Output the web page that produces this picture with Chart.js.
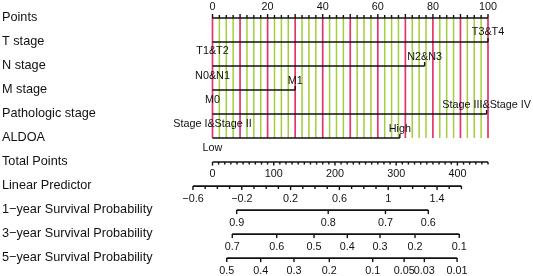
<!DOCTYPE html>
<html>
<head>
<meta charset="utf-8">
<script src="https://cdn.jsdelivr.net/npm/chart.js@4.4.1/dist/chart.umd.min.js"></script>
<style>
  html, body { margin: 0; padding: 0; background: #fff; }
  #wrap { width: 533px; height: 276px; position: relative; }
</style>
</head>
<body>
<div id="wrap"><canvas id="nomo"></canvas></div>
<script>
// rows, top to bottom
const rowLabels = [
  'Points', 'T stage', 'N stage', 'M stage', 'Pathologic stage', 'ALDOA',
  'Total Points', 'Linear Predictor',
  '1\u2212year Survival Probability',
  '3\u2212year Survival Probability',
  '5\u2212year Survival Probability'
]

// points scale (0-100)
const pointsLabels = [0, 20, 40, 60, 80, 100]

// predictors: level names and their points
const tStageLevels = ['T1&T2', 'T3&T4']
const tStagePoints = [0, 100]
const nStageLevels = ['N0&N1', 'N2&N3']
const nStagePoints = [0, 77]
const mStageLevels = ['M0', 'M1']
const mStagePoints = [0, 30]
const pathStageLevels = ['Stage I&Stage II', 'Stage III&Stage IV']
const pathStagePoints = [0, 99.5]
const aldoaLevels = ['Low', 'High']
const aldoaPoints = [0, 68]

// total points axis
const totalLabels = [0, 100, 200, 300, 400]
const totalMax = 450
const totalPerPoint = 4.5

// linear predictor axis
const lpLabels = [-0.6, -0.2, 0.2, 0.6, 1, 1.4]
const lpRange = [-0.6, 1.6]
const lpAtZeroTotal = -0.44
const totalPerLp = 199.3

// survival probabilities and the total points where they sit
const surv1Labels = ['0.9', '0.8', '0.7', '0.6']
const surv1Total = [39.5, 189, 282.5, 352.5]
const surv3Labels = ['0.7', '0.6', '0.5', '0.4', '0.3', '0.2', '0.1']
const surv3Total = [32.3, 104.9, 165.8, 220.2, 273.6, 330.8, 403]
const surv5Labels = ['0.5', '0.4', '0.3', '0.2', '0.1', '0.05', '0.03', '0.01']
const surv5Total = [23.2, 78.7, 133.1, 190.8, 261.7, 313, 346, 399.5]

const RED = '#e5336b'
const GREEN = '#a3cf3c'
const INK = '#111'
const FONT = '"Liberation Sans", Arial, sans-serif'

const totalToPts = t => t / totalPerPoint
const lpToPts = lp => totalToPts((lp - lpAtZeroTotal) * totalPerLp)

function seq(from, to, step) {
  const out = []
  const n = Math.round((to - from) / step)
  for (let i = 0; i <= n; i++) out.push(+(from + i * step).toFixed(6))
  return out
}

const predictors = [
  { row: 1, levels: tStageLevels, pts: tStagePoints },
  { row: 2, levels: nStageLevels, pts: nStagePoints },
  { row: 3, levels: mStageLevels, pts: mStagePoints },
  { row: 4, levels: pathStageLevels, pts: pathStagePoints },
  { row: 5, levels: aldoaLevels, pts: aldoaPoints }
]

const survRows = [
  { row: 8, labels: surv1Labels, total: surv1Total },
  { row: 9, labels: surv3Labels, total: surv3Total },
  { row: 10, labels: surv5Labels, total: surv5Total }
]

function hline(row, x0, x1) {
  return {
    data: [{ x: x0, y: row }, { x: x1, y: row }],
    showLine: true,
    borderColor: INK,
    borderWidth: 1.6,
    pointRadius: 0,
    borderCapStyle: 'butt'
  }
}

const datasets = [
  hline(0, 0, 100),
  ...predictors.map(p => hline(p.row, Math.min(...p.pts), Math.max(...p.pts))),
  hline(6, 0, totalToPts(totalMax)),
  hline(7, lpToPts(lpRange[0]), lpToPts(lpRange[1])),
  ...survRows.map(s => hline(s.row, totalToPts(s.total[0]), totalToPts(s.total[s.total.length - 1])))
]

// vertical reference grid behind the predictor rows
const gridPlugin = {
  id: 'nomoGrid',
  beforeDatasetsDraw(chart) {
    const { ctx, scales: { x, y } } = chart
    const top = y.getPixelForValue(0)
    const bottom = y.getPixelForValue(5)
    ctx.save()
    seq(0, 100, 2.5).forEach(v => {
      const major = v % 10 === 0
      const px = x.getPixelForValue(v)
      ctx.strokeStyle = major ? RED : GREEN
      ctx.lineWidth = major ? 1.7 : 1.5
      ctx.beginPath()
      ctx.moveTo(px, top)
      ctx.lineTo(px, bottom)
      ctx.stroke()
    })
    ctx.restore()
  }
}

// ticks and text
const textPlugin = {
  id: 'nomoText',
  afterDatasetsDraw(chart) {
    const { ctx, chartArea, scales: { x, y } } = chart
    const tick = (pxX, row, len) => {
      const py = y.getPixelForValue(row)
      ctx.beginPath()
      ctx.moveTo(pxX, py)
      ctx.lineTo(pxX, py + len)
      ctx.stroke()
    }
    const label = (txt, pxX, row, dy) => {
      ctx.fillText(txt, pxX, y.getPixelForValue(row) + dy)
    }

    ctx.save()
    ctx.fillStyle = INK
    ctx.strokeStyle = INK
    ctx.lineWidth = 1.4

    // row titles
    ctx.font = '12.7px ' + FONT
    ctx.textAlign = 'left'
    ctx.textBaseline = 'middle'
    rowLabels.forEach((t, i) => label(t, chartArea.left + 2, i, -1))

    ctx.font = '10.8px ' + FONT
    ctx.textAlign = 'center'

    // points axis (ticks up, labels above)
    seq(0, 100, 2.5).forEach(v => tick(x.getPixelForValue(v), 0, v % 10 === 0 ? -4 : -3))
    pointsLabels.forEach(v => label(String(v), x.getPixelForValue(v), 0, -11))

    // predictors
    predictors.forEach(p => {
      p.pts.forEach((v, i) => {
        const px = x.getPixelForValue(v)
        if (i > 0) tick(px, p.row, -4)
        label(p.levels[i], px, p.row, i === 0 ? 9.5 : -9.5)
      })
    })

    // total points
    seq(0, totalMax, 10).forEach(v => {
      tick(x.getPixelForValue(totalToPts(v)), 6, v % 100 === 0 ? 3.5 : 2.5)
    })
    totalLabels.forEach(v => label(String(v), x.getPixelForValue(totalToPts(v)), 6, 12))

    // linear predictor
    seq(lpRange[0], lpRange[1], 0.1).forEach(v => {
      const isLab = lpLabels.some(l => Math.abs(l - v) < 1e-6)
      tick(x.getPixelForValue(lpToPts(v)), 7, isLab ? 4 : 3)
    })
    lpLabels.forEach(v => label(String(v).replace('-', '\u2212'), x.getPixelForValue(lpToPts(v)), 7, 12.5))

    // survival probabilities
    survRows.forEach(s => {
      s.total.forEach((t, i) => {
        const px = x.getPixelForValue(totalToPts(t))
        tick(px, s.row, 4)
        label(s.labels[i], px, s.row, 12.5)
      })
    })

    ctx.restore()
  }
}

new Chart(document.getElementById('nomo'), {
  type: 'scatter',
  data: { datasets },
  options: {
    responsive: true,
    maintainAspectRatio: false,
    animation: false,
    layout: { padding: 0 },
    plugins: { legend: { display: false }, tooltip: { enabled: false } },
    scales: {
      x: { type: 'linear', min: -77.13, max: 116.33, display: false },
      y: { type: 'linear', reverse: true, min: -0.75, max: 10.745, display: false }
    }
  },
  plugins: [gridPlugin, textPlugin]
})
</script>
</body>
</html>
